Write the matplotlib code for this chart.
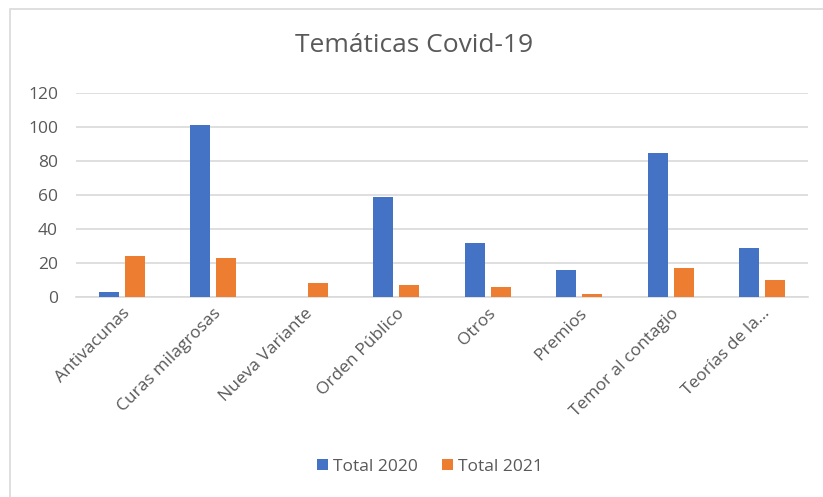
import numpy as np
import matplotlib.pyplot as plt
from matplotlib.patches import Rectangle

categorias = ['Antivacunas', 'Curas milagrosas', 'Nueva Variante', 'Orden Público',
              'Otros', 'Premios', 'Temor al contagio', 'Teorías de la...']
total_2020 = [3, 101, 0, 59, 32, 16, 85, 29]
total_2021 = [24, 23, 8, 7, 6, 2, 17, 10]

plt.rcParams['font.family'] = ['Open Sans', 'DejaVu Sans']
gris = '#595959'

fig = plt.figure(figsize=(8.23, 4.97), dpi=100)
# marco del gráfico
fig.patches.append(Rectangle((10 / 823, -0.1), 1.2, 1 - 9 / 497 + 0.1, transform=fig.transFigure,
                             fill=False, edgecolor='#d9d9d9', linewidth=1.2))

ax = fig.add_axes([76 / 823, 1 - 297 / 497, (808 - 76) / 823, (297 - 93) / 497])
x = np.arange(len(categorias))
w = 0.22
ax.bar(x - 0.142, total_2020, w, color='#4472c4', label='Total 2020', zorder=3)
ax.bar(x + 0.142, total_2021, w, color='#ed7d31', label='Total 2021', zorder=3)

ax.set_xlim(-0.5, len(categorias) - 0.5)
ax.set_ylim(0, 120)
ax.set_yticks(range(0, 121, 20))
ax.yaxis.grid(True, color='#d9d9d9', linewidth=1.2, zorder=0)
for s in ['top', 'right', 'left']:
    ax.spines[s].set_visible(False)
ax.spines['bottom'].set_color('#d9d9d9')
ax.spines['bottom'].set_linewidth(1.2)
ax.tick_params(axis='both', length=0, colors=gris, labelsize=12.5)
ax.tick_params(axis='y', pad=13)
ax.tick_params(axis='x', pad=6)
ax.set_xticks(x)
ax.set_xticklabels(categorias, rotation=45, ha='right', rotation_mode='anchor')

fig.text(414 / 823, 1 - 45 / 497, 'Temáticas Covid-19', ha='center', va='center',
         fontsize=19, color=gris)
fig.legend(loc='center', bbox_to_anchor=(430 / 823, 1 - 467 / 497), ncol=2, frameon=False,
           fontsize=12.5, labelcolor=gris, handlelength=0.6, handleheight=0.6,
           handletextpad=0.3, columnspacing=1.4)

fig.savefig('out.png', dpi=100)
